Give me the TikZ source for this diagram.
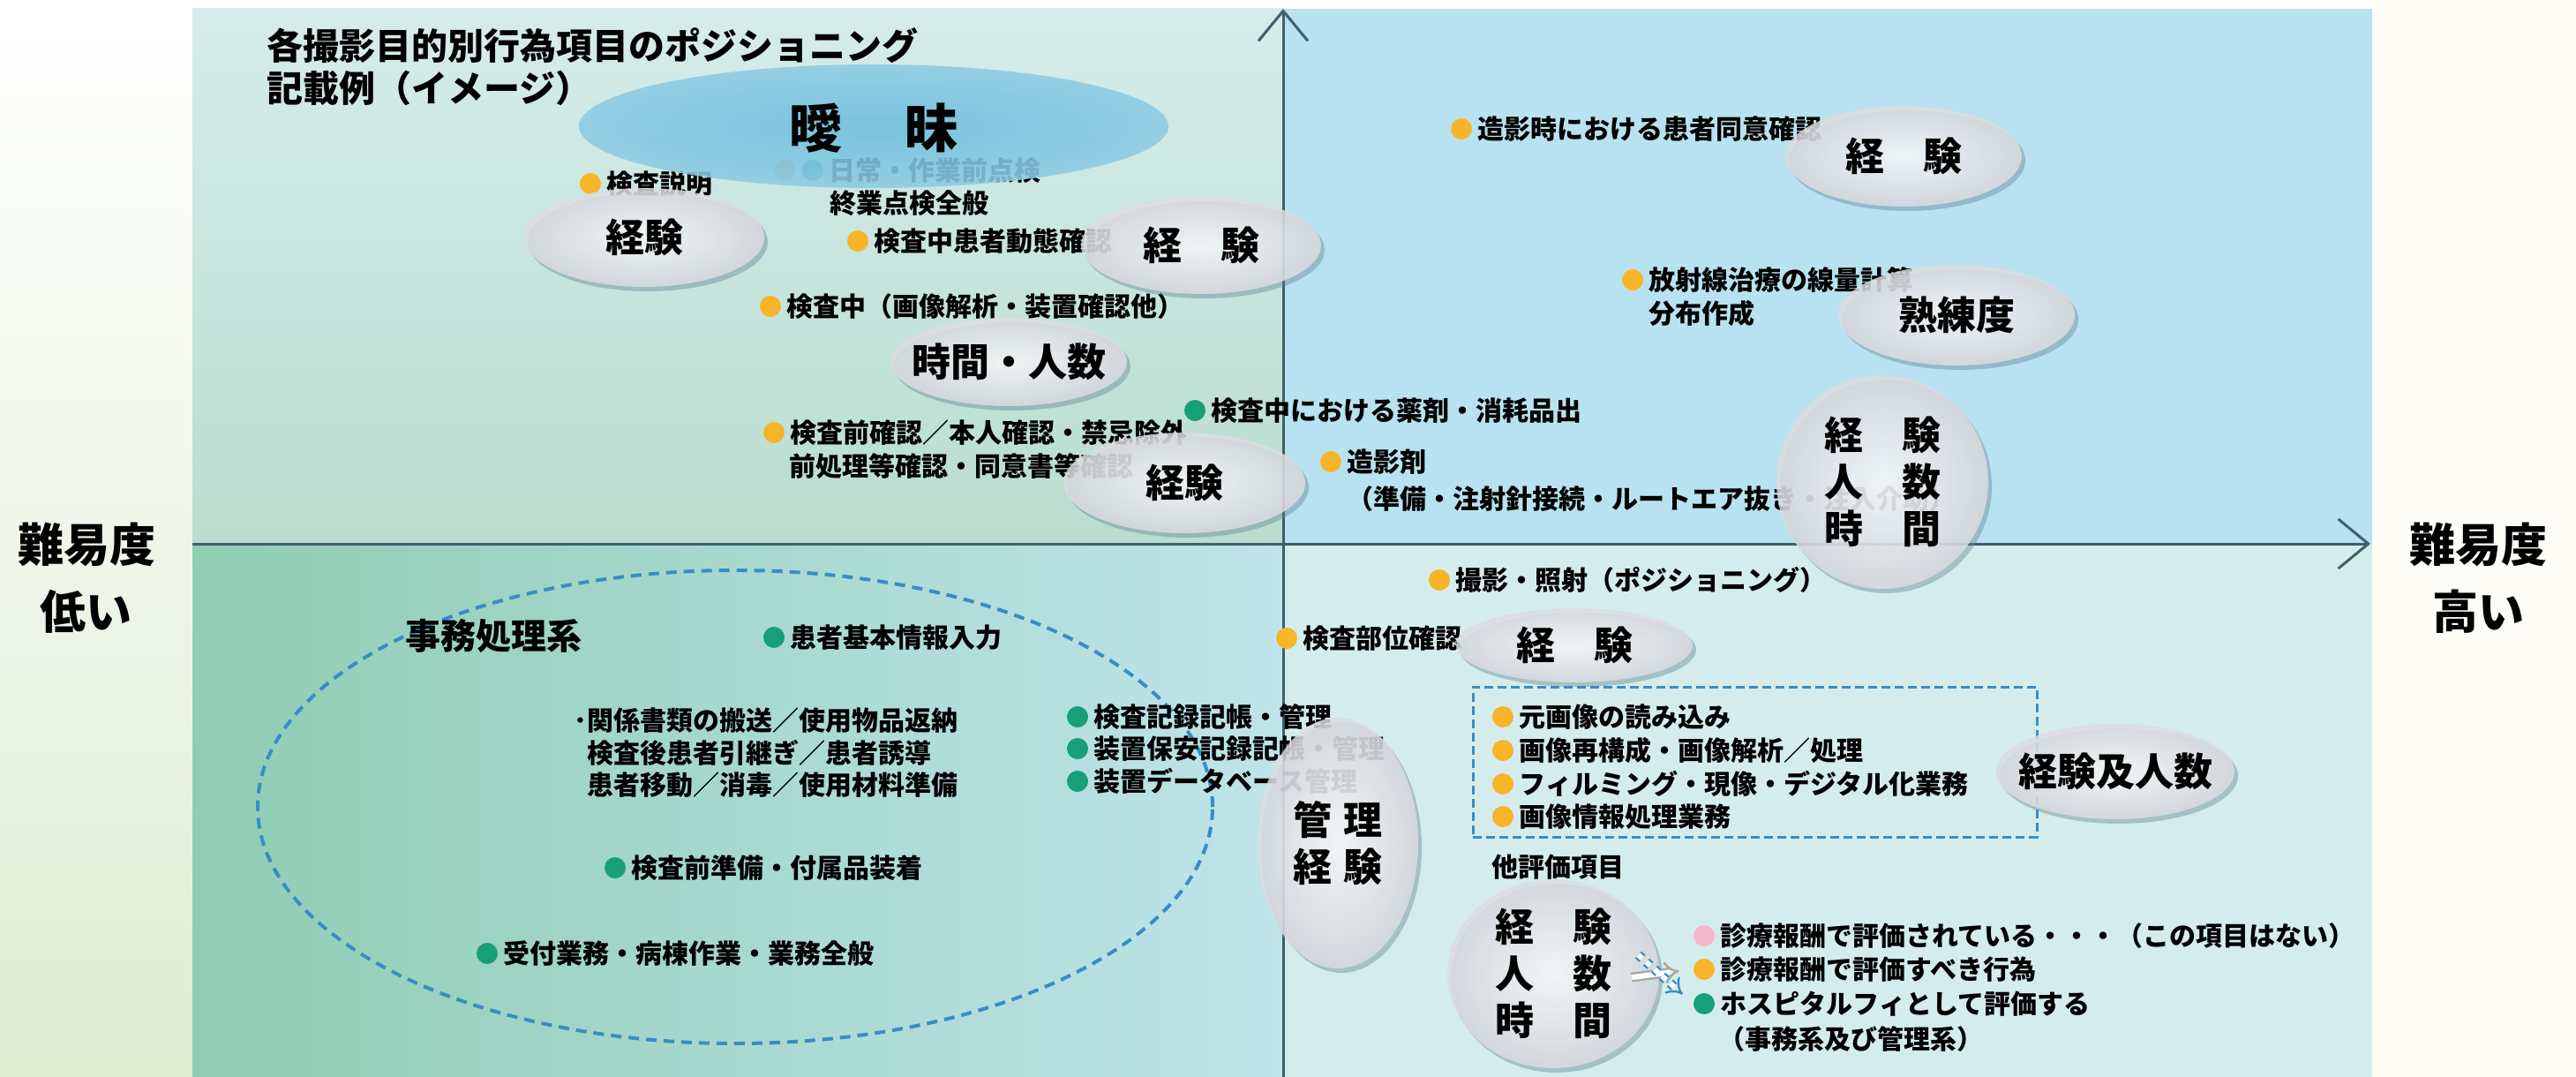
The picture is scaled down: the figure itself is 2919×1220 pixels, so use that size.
\documentclass[tikz,border=0pt]{standalone}
\usepackage{fontspec}
\setmainfont{Noto Sans CJK JP}
\usetikzlibrary{positioning,arrows.meta,shapes.geometric,shadows}

\definecolor{axisline}{HTML}{3F5F6B}
\definecolor{dotorange}{HTML}{F8B52A}
\definecolor{dotgreen}{HTML}{17A077}
\definecolor{dotteal}{HTML}{1AA294}
\definecolor{dottan}{HTML}{CDAE7F}
\definecolor{dotpink}{HTML}{F4B9CC}
\definecolor{dashblue}{HTML}{3A8CC6}
\definecolor{bubgray}{HTML}{DCDCE1}
\definecolor{shadowblue}{HTML}{5E7F8F}
\definecolor{aimaiin}{HTML}{6CBEDD}
\definecolor{aimaiout}{HTML}{8CCBE4}
\definecolor{ultop}{HTML}{D6ECEA}
\definecolor{ulbot}{HTML}{B9DDCF}
\definecolor{urbg}{HTML}{B8E2F0}
\definecolor{llleft}{HTML}{8FCDB3}
\definecolor{llright}{HTML}{BFE4EA}
\definecolor{lrbg}{HTML}{D4EDEC}
\definecolor{leftglow}{HTML}{BFDBA6}
\definecolor{rightbg}{HTML}{FDFCF6}

\begin{document}
\begin{tikzpicture}[x=0.5pt, y=-0.5pt, >={Straight Barb[length=17pt,width=28pt]},
  item/.style={inner sep=0pt, anchor=west, font=\fontsize{15}{18}\selectfont\bfseries},
  bullet/.style={circle, inner sep=0pt, minimum size=12pt},
  obul/.style={bullet, fill=dotorange},
  gbul/.style={bullet, fill=dotgreen},
  bubble/.style={ellipse, inner sep=0pt, shading=radial, inner color=white, outer color=bubgray,
    fill opacity=0.84, drop shadow={fill=shadowblue, opacity=0.4, shadow xshift=2pt, shadow yshift=-2.5pt}},
  btext/.style={inner sep=0pt, align=center, font=\fontsize{22}{26.5}\selectfont\bfseries},
  axis/.style={draw=axisline, line width=1.5pt, ->},
  dashgroup/.style={draw=dashblue, line width=2pt, dash pattern=on 6pt off 4pt}]

  % background
  \useasboundingbox (0,0) rectangle (2919,1220);
  \fill[white] (0,0) rectangle (2919,1220);
  \shade[top color=white, middle color=leftglow, bottom color=white!50!leftglow] (0,10) rectangle (218,1220);
  \fill[rightbg] (2688,0) rectangle (2919,1220);
  \shade[top color=ultop, bottom color=ulbot] (218,10) rectangle (1454,616);
  \fill[urbg] (1454,10) rectangle (2688,616);
  \shade[left color=llleft, right color=llright] (218,616) rectangle (1454,1220);
  \fill[lrbg] (1454,616) rectangle (2688,1220);

  % groups
  \node[dashgroup, ellipse, inner sep=0pt, minimum width=541pt, minimum height=268pt] (jimu) at (833,914) {};
  \node[draw=dashblue, line width=1.5pt, dash pattern=on 5pt off 2.5pt, inner sep=0pt,
    minimum width=319.5pt, minimum height=85pt] (imgbox) at (1988.5,863) {};

  % axes
  \coordinate (xl) at (218,616);
  \coordinate (xr) at (2686,616);
  \coordinate (yb) at (1454,1220);
  \coordinate (yt) at (1454,10);
  \draw[axis] (xl) -- (xr);
  \draw[axis] (yb) -- (yt);

  % upper left
  \node[obul] (dA) at (669,208) {};
  \node[item, right=3pt of dA] (tA) {検査説明};
  \node[bullet, fill=dottan] (dB1) at (889,193) {};
  \node[bullet, fill=dotteal] (dB2) at (921,193) {};
  \node[item, right=3pt of dB2] (tB1) {日常・作業前点検};
  \node[item] (tB2) at (940,230) {終業点検全般};
  \node[obul] (dC) at (972,273) {};
  \node[item, right=3pt of dC] (tC) {検査中患者動態確認};
  \node[obul] (dD) at (873,347) {};
  \node[item, right=3pt of dD] (tD) {検査中（画像解析・装置確認他）};
  \node[gbul] (dE) at (1354,465) {};
  \node[item, right=3pt of dE] (tE) {検査中における薬剤・消耗品出};
  \node[obul] (dF) at (877,490) {};
  \node[item, right=3pt of dF] (tF1) {検査前確認／本人確認・禁忌除外};
  \node[item] (tF2) at (894,528) {前処理等確認・同意書等確認};

  % upper right
  \node[obul] (dG) at (1656,146) {};
  \node[item, right=3pt of dG] (tG) {造影時における患者同意確認};
  \node[obul] (dH) at (1850,317) {};
  \node[item, right=3pt of dH] (tH1) {放射線治療の線量計算};
  \node[item] (tH2) at (1868,355) {分布作成};
  \node[obul] (dI) at (1508,523) {};
  \node[item, right=3pt of dI] (tI1) {造影剤};
  \node[item] (tI2) at (1526,565) {（準備・注射針接続・ルートエア抜き・注入介助）};

  % lower left
  \node[item, font=\fontsize{20}{24}\selectfont\bfseries] (jimuhd) at (459,720) {事務処理系};
  \node[gbul] (dJ) at (877,722) {};
  \node[item, right=3pt of dJ] (tJ) {患者基本情報入力};
  \node[item] (tK1) at (665,816) {\llap{･}関係書類の搬送／使用物品返納};
  \node[item] (tK2) at (665,853) {検査後患者引継ぎ／患者誘導};
  \node[item] (tK3) at (665,889) {患者移動／消毒／使用材料準備};
  \node[gbul] (dL) at (697,983) {};
  \node[item, right=3pt of dL] (tL) {検査前準備・付属品装着};
  \node[gbul] (dM) at (552,1080) {};
  \node[item, right=3pt of dM] (tM) {受付業務・病棟作業・業務全般};

  % lower right
  \node[obul] (dN) at (1631,657) {};
  \node[item, right=3pt of dN] (tN) {撮影・照射（ポジショニング）};
  \node[obul] (dO) at (1458,723) {};
  \node[item, right=3pt of dO] (tO) {検査部位確認};
  \node[gbul] (dP1) at (1221,812) {};
  \node[item, right=3pt of dP1] (tP1) {検査記録記帳・管理};
  \node[gbul] (dP2) at (1221,848) {};
  \node[item, right=3pt of dP2] (tP2) {装置保安記録記帳・管理};
  \node[gbul] (dP3) at (1221,885) {};
  \node[item, right=3pt of dP3] (tP3) {装置データベース管理};
  \node[obul] (dQ1) at (1703,812) {};
  \node[item, right=3pt of dQ1] (tQ1) {元画像の読み込み};
  \node[obul] (dQ2) at (1703,850) {};
  \node[item, right=3pt of dQ2] (tQ2) {画像再構成・画像解析／処理};
  \node[obul] (dQ3) at (1703,888) {};
  \node[item, right=3pt of dQ3] (tQ3) {フィルミング・現像・デジタル化業務};
  \node[obul] (dQ4) at (1703,925) {};
  \node[item, right=3pt of dQ4] (tQ4) {画像情報処理業務};
  \node[item] (otherhd) at (1690,982) {他評価項目};
  \node[bullet, fill=dotpink] (dR1) at (1931,1060) {};
  \node[item, right=3pt of dR1] (tR1) {診療報酬で評価されている・・・（この項目はない）};
  \node[obul] (dR2) at (1931,1098) {};
  \node[item, right=3pt of dR2] (tR2) {診療報酬で評価すべき行為};
  \node[gbul] (dR3) at (1931,1137) {};
  \node[item, right=3pt of dR3] (tR3) {ホスピタルフィとして評価する};
  \node[item] (tR4) at (1947,1177) {（事務系及び管理系）};

  % ambiguity
  \node[ellipse, inner sep=0pt, shading=radial, inner color=aimaiin, outer color=aimaiout, fill opacity=0.88,
    minimum width=334pt, minimum height=70pt] (aimai) at (990,143) {};
  \node[inner sep=0pt, font=\fontsize{30}{36}\selectfont\bfseries] (aimait) at (990,145) {曖\hspace{1.2em}昧};

  % bubbles
  \node[bubble, minimum width=136pt, minimum height=56pt] (bA) at (730,269) {};
  \node[btext] (bAt) at (bA) {経験};
  \node[bubble, minimum width=136pt, minimum height=55pt] (bB) at (1361,278) {};
  \node[btext] (bBt) at (bB) {経　験};
  \node[bubble, minimum width=134pt, minimum height=50pt] (bC) at (1143,410) {};
  \node[btext] (bCt) at (bC) {時間・人数};
  \node[bubble, minimum width=137pt, minimum height=57pt] (bD) at (1342,547) {};
  \node[btext] (bDt) at (bD) {経験};
  \node[bubble, minimum width=134pt, minimum height=57pt] (bE) at (2157,177) {};
  \node[btext] (bEt) at (bE) {経　験};
  \node[bubble, minimum width=134pt, minimum height=57pt] (bF) at (2217,357) {};
  \node[btext] (bFt) at (bF) {熟練度};
  \node[bubble, minimum width=120pt, minimum height=121pt] (bG) at (2133,546) {};
  \node[btext] (bGt) at (bG) {経　験\\人　数\\時　間};
  \node[bubble, minimum width=134pt, minimum height=42pt] (bH) at (1784,731) {};
  \node[btext] (bHt) at (bH) {経　験};
  \node[bubble, minimum width=135pt, minimum height=54pt] (bI) at (2397,874) {};
  \node[btext] (bIt) at (bI) {経験及人数};
  \node[bubble, minimum width=91pt, minimum height=142pt] (bJ) at (1516,955) {};
  \node[btext] (bJt) at (bJ) {管\hspace{.3em}理\\経\hspace{.3em}験};
  \node[bubble, minimum width=120pt, minimum height=107pt] (bK) at (1760,1103) {};
  \node[btext] (bKt) at (bK) {経　験\\人　数\\時　間};

  % evaluation arrows
  \draw[draw=gray!70, line width=1.2pt, double=white, double distance=3pt, -{Implies}, shorten <=-16pt, shorten >=8pt] (bK.east) -- (dR2.west);
  \draw[draw=dashblue, line width=1.2pt, double=white, double distance=3pt, dashed, -{Implies}, shorten <=-16pt, shorten >=8pt] (bK.east) -- (dR3.west);

  % labels
  \node[anchor=west, inner sep=0pt, align=left, font=\fontsize{20.5}{24}\selectfont\bfseries] (title) at (302,76) {各撮影目的別行為項目のポジショニング\\記載例（イメージ）};
  \node[inner sep=0pt, align=center, font=\fontsize{26}{38}\selectfont\bfseries] (lowlab) at (98,655) {難易度\\低い};
  \node[inner sep=0pt, align=center, font=\fontsize{26}{38}\selectfont\bfseries] (highlab) at (2808,655) {難易度\\高い};
\end{tikzpicture}
\end{document}
